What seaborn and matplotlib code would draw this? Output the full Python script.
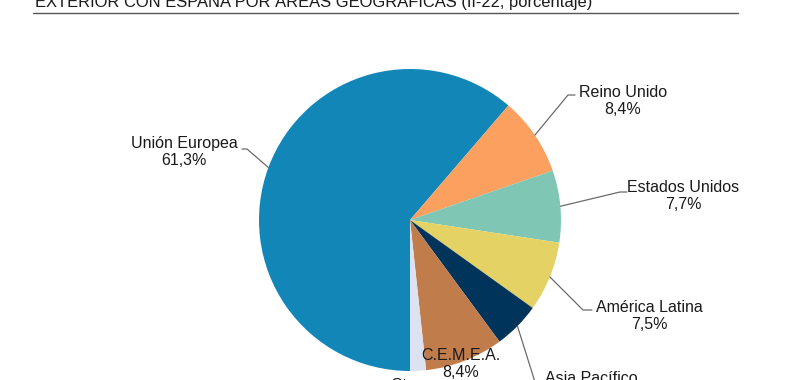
import numpy as np
import matplotlib.pyplot as plt
import seaborn as sns
from matplotlib.lines import Line2D

# data
regions = ["Unión Europea", "Reino Unido", "Estados Unidos", "América Latina",
           "Asia Pacífico", "C.E.M.E.A.", "Otros"]
shares = [61.3, 8.4, 7.7, 7.5, 5.0, 8.4, 1.7]
share_labels = ["61,3%", "8,4%", "7,7%", "7,5%", "5,0%", "8,4%", "1,7%"]
colors = ["#1386B8", "#FBA05E", "#7FC6B5", "#E4D264", "#00345B", "#C17C4C", "#DCE2F2"]

title = "EXTERIOR CON ESPAÑA POR ÁREAS GEOGRÁFICAS (II-22, porcentaje)"

sns.set_theme(style="white")
plt.rcParams["font.family"] = ["Liberation Sans", "DejaVu Sans"]

W, H = 800, 380
CX, CY, R = 410, 220, 151  # pie centre and radius in pixels


def to_data(px, py):
    return (px - CX) / R, (CY - py) / R


# label layout: text centre (px), leader elbow and leader end at text (px), None = no leader
layout = [
    ((184, 152), (247, 149), (242, 149)),
    ((623, 101), (568, 95), (575, 95)),
    ((683, 196), (620, 192), (627, 192)),
    ((649, 316), (583, 310), (592, 310)),
    ((591, 387), (535, 382), (540, 382)),
    ((461, 364), None, None),
    ((410, 394), None, None),
]

fig = plt.figure(figsize=(W / 100, H / 100), dpi=100)
fig.patch.set_facecolor("white")
ax = fig.add_axes([(CX - R) / W, (H - CY - R) / H, 2 * R / W, 2 * R / H])

wedges, _ = ax.pie(shares, colors=colors, startangle=270, counterclock=False,
                   radius=1, wedgeprops=dict(linewidth=0))
ax.set_xlim(-1, 1)
ax.set_ylim(-1, 1)
ax.set_aspect("auto")
ax.axis("off")

for w, name, lab, (txt, elbow, tend) in zip(wedges, regions, share_labels, layout):
    tx, ty = to_data(*txt)
    ax.text(tx, ty, f"{name}\n{lab}", ha="center", va="center", fontsize=11.5,
            color="#1a1a1a", linespacing=1.2, clip_on=False)
    if elbow is not None:
        mid = np.deg2rad((w.theta1 + w.theta2) / 2)
        ex, ey = to_data(*elbow)
        sx, sy = to_data(*tend)
        ax.plot([np.cos(mid), ex, sx], [np.sin(mid), ey, sy], color="#6b6b6b",
                lw=0.9, clip_on=False)

# cropped title line at the top
fig.text(35 / W, (H - 6.5) / H, title, ha="left", va="baseline", fontsize=11.9,
         color="#1a1a1a")
fig.add_artist(Line2D([33 / W, 738 / W], [(H - 12.5) / H] * 2, transform=fig.transFigure,
                      color="#555555", lw=1.0))

fig.savefig("out.png", dpi=100, facecolor="white")
